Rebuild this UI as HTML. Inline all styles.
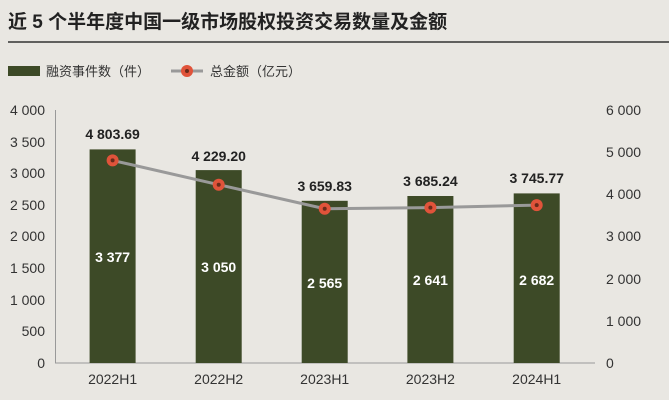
<!DOCTYPE html>
<html><head><meta charset="utf-8"><style>
html,body{margin:0;padding:0;background:#e9e7e2;}
svg{display:block;font-family:"Liberation Sans","Noto Sans CJK SC",sans-serif;}
</style></head><body>
<svg width="669" height="400" viewBox="0 0 669 400">
<rect width="669" height="400" fill="#e9e7e2"/>
<text x="8" y="28" font-size="19" font-weight="bold" fill="#222">近 5 个半年度中国一级市场股权投资交易数量及金额</text>
<line x1="8" y1="42" x2="669" y2="42" stroke="#333" stroke-width="1.5"/>
<rect x="8" y="66" width="32" height="10" fill="#3d4a27"/>
<text x="46" y="76" font-size="13" fill="#333">融资事件数（件）</text>
<line x1="171" y1="71" x2="203" y2="71" stroke="#999" stroke-width="3"/>
<circle cx="187" cy="71" r="6" fill="#e0533a"/><circle cx="187" cy="71" r="2" fill="#6a2a1a"/>
<text x="210" y="76" font-size="13" fill="#333">总金额（亿元）</text>
<g font-size="14" fill="#333" text-anchor="end">
<text x="45" y="368">0</text><text x="45" y="336">500</text><text x="45" y="305">1 000</text><text x="45" y="273">1 500</text>
<text x="45" y="241">2 000</text><text x="45" y="210">2 500</text><text x="45" y="178">3 000</text><text x="45" y="147">3 500</text><text x="45" y="115">4 000</text>
</g>
<g font-size="14" fill="#333">
<text x="606" y="368">0</text><text x="606" y="326">1 000</text><text x="606" y="284">2 000</text><text x="606" y="241">3 000</text>
<text x="606" y="199">4 000</text><text x="606" y="157">5 000</text><text x="606" y="115">6 000</text>
</g>
<line x1="55.5" y1="110" x2="55.5" y2="363" stroke="#999"/>
<line x1="55" y1="363" x2="595" y2="363" stroke="#999"/>
<g fill="#3d4a27">
<rect x="89.6" y="149.4" width="46" height="213.6"/>
<rect x="195.7" y="170.1" width="46" height="192.9"/>
<rect x="301.7" y="200.8" width="46" height="162.2"/>
<rect x="407.4" y="196" width="46" height="167"/>
<rect x="513.7" y="193.4" width="46" height="169.6"/>
</g>
<g font-size="14" fill="#fff" text-anchor="middle" font-weight="bold">
<text x="112.6" y="262">3 377</text><text x="218.7" y="272">3 050</text><text x="324.7" y="288">2 565</text><text x="430.4" y="285">2 641</text><text x="536.7" y="285">2 682</text>
</g>
<polyline points="112.6,160.4 218.7,184.7 324.7,208.7 430.4,207.6 536.7,205.1" fill="none" stroke="#999" stroke-width="3"/>
<g>
<circle cx="112.6" cy="160.4" r="6" fill="#e0533a"/><circle cx="112.6" cy="160.4" r="2" fill="#6a2a1a"/>
<circle cx="218.7" cy="184.7" r="6" fill="#e0533a"/><circle cx="218.7" cy="184.7" r="2" fill="#6a2a1a"/>
<circle cx="324.7" cy="208.7" r="6" fill="#e0533a"/><circle cx="324.7" cy="208.7" r="2" fill="#6a2a1a"/>
<circle cx="430.4" cy="207.6" r="6" fill="#e0533a"/><circle cx="430.4" cy="207.6" r="2" fill="#6a2a1a"/>
<circle cx="536.7" cy="205.1" r="6" fill="#e0533a"/><circle cx="536.7" cy="205.1" r="2" fill="#6a2a1a"/>
</g>
<g font-size="14" fill="#222" text-anchor="middle" font-weight="bold">
<text x="112.6" y="139">4 803.69</text><text x="218.7" y="161">4 229.20</text><text x="324.7" y="191">3 659.83</text><text x="430.4" y="186">3 685.24</text><text x="536.7" y="183">3 745.77</text>
</g>
<g font-size="14" fill="#333" text-anchor="middle">
<text x="112.6" y="384">2022H1</text><text x="218.7" y="384">2022H2</text><text x="324.7" y="384">2023H1</text><text x="430.4" y="384">2023H2</text><text x="536.7" y="384">2024H1</text>
</g>
</svg>
</body></html>
